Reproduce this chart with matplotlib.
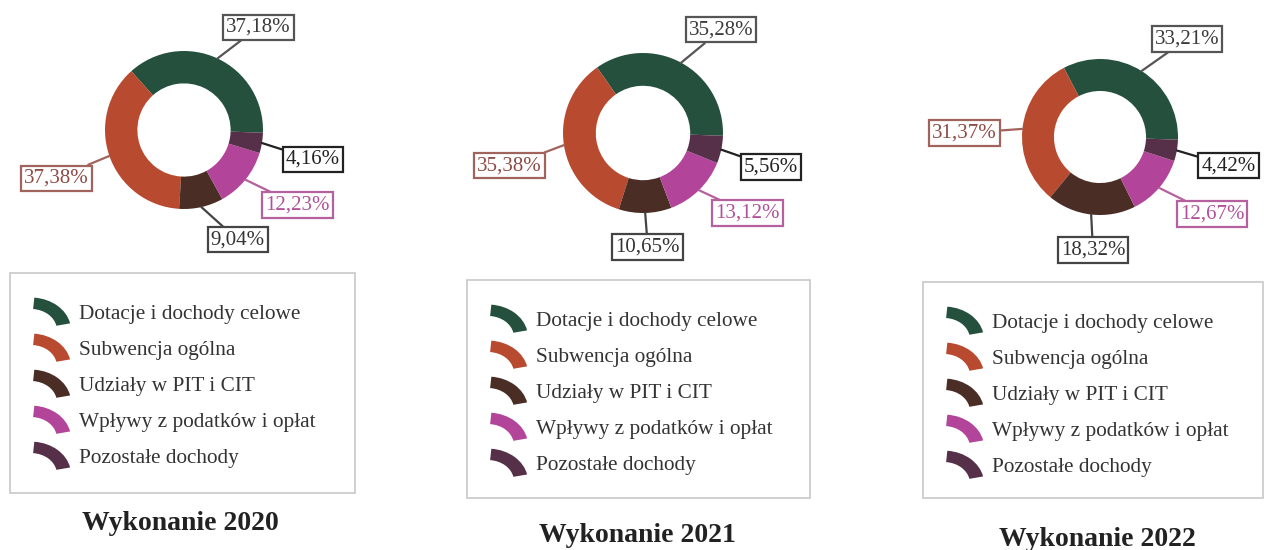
import matplotlib
matplotlib.use("Agg")
import matplotlib.pyplot as plt
from matplotlib.patches import Wedge, Rectangle
from matplotlib.legend_handler import HandlerPatch
from matplotlib.transforms import Affine2D
import numpy as np

categories = [
    "Dotacje i dochody celowe",
    "Subwencja ogólna",
    "Udziały w PIT i CIT",
    "Wpływy z podatków i opłat",
    "Pozostałe dochody",
]
years = ["2020", "2021", "2022"]
share_2020 = [37.18, 37.38, 9.04, 12.23, 4.16]
share_2021 = [35.28, 35.38, 10.65, 13.12, 5.56]
share_2022 = [33.21, 31.37, 18.32, 12.67, 4.42]

colors = ["#24503d", "#b84a30", "#4a2d24", "#b2459a", "#563049"]
label_text = ["#3a3a3a", "#8e4a44", "#333333", "#b0509a", "#222222"]
label_edge = ["#555555", "#a0645c", "#444444", "#b5609f", "#222222"]

W, H = 1266, 550
fig = plt.figure(figsize=(W / 100, H / 100), dpi=100)
fig.patch.set_facecolor("white")
plt.rcParams["font.family"] = ["Liberation Serif", "DejaVu Serif"]

# layout in image pixels: donut centre, radius, label positions (radius units)
charts = [
    dict(vals=share_2020, cx=184, cy=130, r=79,
         lab=[(0.94, 1.30), (-1.62, -0.61), (0.68, -1.39), (1.44, -0.95), (1.63, -0.37)],
         box=(10, 273, 345, 220), title_xy=(180, 523)),
    dict(vals=share_2021, cx=643, cy=133, r=80,
         lab=[(0.975, 1.29), (-1.675, -0.41), (0.06, -1.425), (1.31, -1.0), (1.60, -0.425)],
         box=(467, 280, 343, 218), title_xy=(637, 535)),
    dict(vals=share_2022, cx=1100, cy=137, r=78,
         lab=[(1.115, 1.256), (-1.74, 0.05), (-0.09, -1.45), (1.436, -0.987), (1.65, -0.37)],
         box=(923, 282, 340, 216), title_xy=(1097, 540)),
]


class ArcHandler(HandlerPatch):
    # quarter-ring icon like the chart's own legend
    def create_artists(self, legend, orig_handle, xdescent, ydescent,
                       width, height, fontsize, trans):
        sx = width / 0.921
        sy = 0.76 * width / 0.861
        tr = (Affine2D().translate(-0.057, -0.5675).scale(sx, sy)
              .translate(-xdescent, -ydescent + height / 2) + trans)
        p = Wedge((0, 0), 1.0, 12, 85, width=0.35,
                  facecolor=orig_handle.get_facecolor(),
                  edgecolor="none", transform=tr)
        return [p]


for year, c in zip(years, charts):
    kx, ky = 2.3, 1.7
    r = c["r"]
    left = (c["cx"] - kx * r) / W
    bottom = (H - c["cy"] - ky * r) / H
    ax = fig.add_axes([left, bottom, 2 * kx * r / W, 2 * ky * r / H])

    wedges, _ = ax.pie(c["vals"], colors=colors, startangle=-2, radius=1.0,
                       wedgeprops=dict(width=0.41, edgecolor="none"))
    ax.set_xlim(-kx, kx)
    ax.set_ylim(-ky, ky)
    ax.axis("off")

    for i, (w, v) in enumerate(zip(wedges, c["vals"])):
        ang = np.deg2rad((w.theta1 + w.theta2) / 2)
        xy = (np.cos(ang), np.sin(ang))
        txt = f"{v:.2f}".replace(".", ",") + "%"
        ax.annotate(txt, xy=xy, xytext=c["lab"][i], ha="center", va="center",
                    fontsize=15, color=label_text[i],
                    bbox=dict(boxstyle="square,pad=0.15", facecolor="white",
                              edgecolor=label_edge[i], linewidth=1.6),
                    arrowprops=dict(arrowstyle="-", color=label_edge[i],
                                    linewidth=1.6, shrinkA=0, shrinkB=0))

    bx, by, bw, bh = c["box"]
    fig.patches.append(Rectangle((bx / W, 1 - (by + bh) / H), bw / W, bh / H,
                                 transform=fig.transFigure, facecolor="white",
                                 edgecolor="#c8c8c8", linewidth=1.2, zorder=0))

    handles = [Wedge((0, 0), 1, 0, 90, facecolor=col) for col in colors]
    leg = fig.legend(handles, categories, loc="upper left",
                     bbox_to_anchor=((bx + 4) / W, 1 - (by + 10) / H),
                     frameon=False, fontsize=15.3, labelspacing=0.67,
                     handlelength=1.74, handleheight=1.0, handletextpad=0.4,
                     handler_map={Wedge: ArcHandler()})
    for t in leg.get_texts():
        t.set_color("#333333")

    fig.text(c["title_xy"][0] / W, 1 - c["title_xy"][1] / H, f"Wykonanie {year}",
             ha="center", va="center", fontsize=20, fontweight="bold",
             color="#222222")

fig.savefig("out.png", dpi=100, facecolor="white")
